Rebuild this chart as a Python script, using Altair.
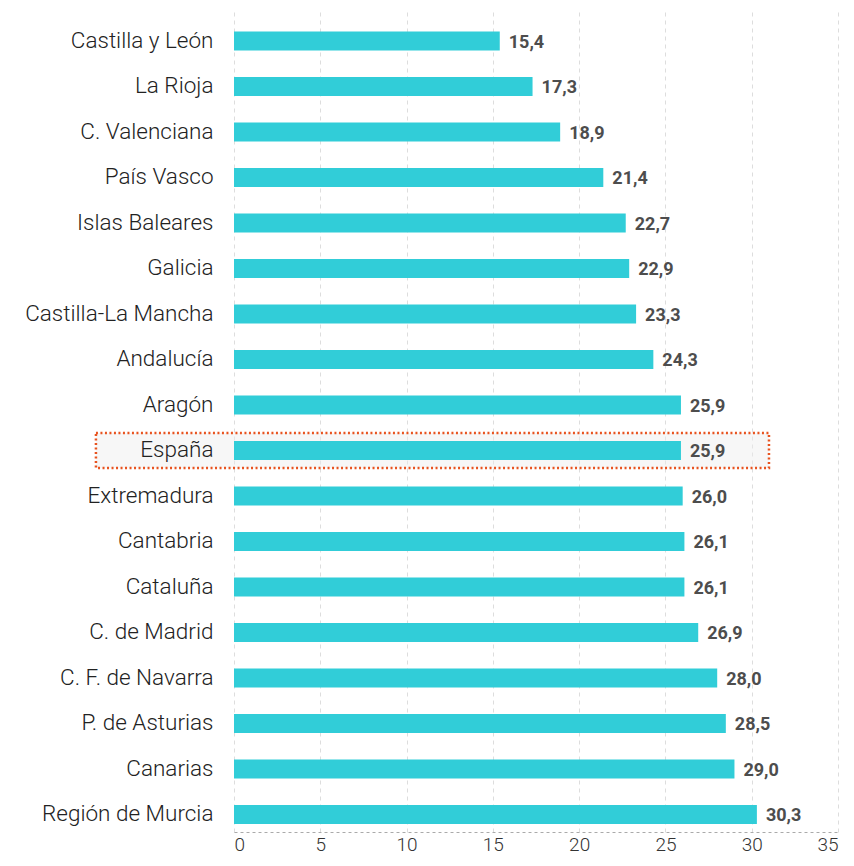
import altair as alt
import pandas as pd

regions = ["Castilla y León", "La Rioja", "C. Valenciana", "País Vasco", "Islas Baleares",
           "Galicia", "Castilla-La Mancha", "Andalucía", "Aragón", "España", "Extremadura",
           "Cantabria", "Cataluña", "C. de Madrid", "C. F. de Navarra", "P. de Asturias",
           "Canarias", "Región de Murcia"]
values = [15.4, 17.3, 18.9, 21.4, 22.7, 22.9, 23.3, 24.3, 25.9, 25.9, 26.0, 26.1, 26.1,
          26.9, 28.0, 28.5, 29.0, 30.3]
x_ticks = [0, 5, 10, 15, 20, 25, 30, 35]
highlight_region = ["España"]
highlight_from = [-8]
highlight_to = [31]

df = pd.DataFrame({"region": regions, "value": values})
df["label"] = [f"{v:.1f}".replace(".", ",") for v in values]
hl = pd.DataFrame({"region": highlight_region, "x0": highlight_from, "x1": highlight_to})

yscale = alt.Scale(domain=regions, paddingInner=0.23, paddingOuter=0.17, align=1)
xscale = alt.Scale(domain=[0, 35], nice=False)

highlight = alt.Chart(hl).mark_rect(
    fill="#eeeeee", fillOpacity=0.45, stroke="#E8531F", strokeDash=[2, 2.5],
    strokeWidth=2.5, strokeOpacity=1
).encode(
    x=alt.X("x0:Q", scale=xscale),
    x2="x1:Q",
    y=alt.Y("region:N", scale=yscale, sort=regions),
)

bars = alt.Chart(df).mark_bar(color="#31CDD8", size=19).encode(
    x=alt.X("value:Q", scale=xscale, title=None,
            axis=alt.Axis(values=x_ticks, grid=True, gridColor="#dddddd", gridDash=[4, 4],
                          domain=True, domainColor="#aaaaaa", domainDash=[3, 3],
                          ticks=False, labelPadding=3, labelFontSize=19,
                          labelFont="Roboto", labelFontWeight=300, labelColor="#333333")),
    y=alt.Y("region:N", scale=yscale, sort=regions, title=None,
            axis=alt.Axis(domain=False, ticks=False, grid=False, labelPadding=21,
                          labelFontSize=22.5, labelFont="Roboto", labelFontWeight=300,
                          labelColor="#222222", labelLimit=300, zindex=1,
                          minExtent=226, maxExtent=226)),
)

text = alt.Chart(df).mark_text(
    align="left", baseline="middle", dx=9, dy=2, fontSize=18, fontWeight="bold",
    font="Roboto", color="#4d4d4d"
).encode(
    x=alt.X("value:Q", scale=xscale),
    y=alt.Y("region:N", scale=yscale, sort=regions),
    text="label:N",
)

chart = alt.layer(highlight, bars, text).properties(
    width=604, height=824,
    autosize=alt.AutoSizeParams(type="none"),
    padding={"left": 226, "top": 0, "right": 8, "bottom": 26},
).configure_view(stroke=None)

chart.save("out.html", embed_options={"renderer": "svg", "actions": False})
